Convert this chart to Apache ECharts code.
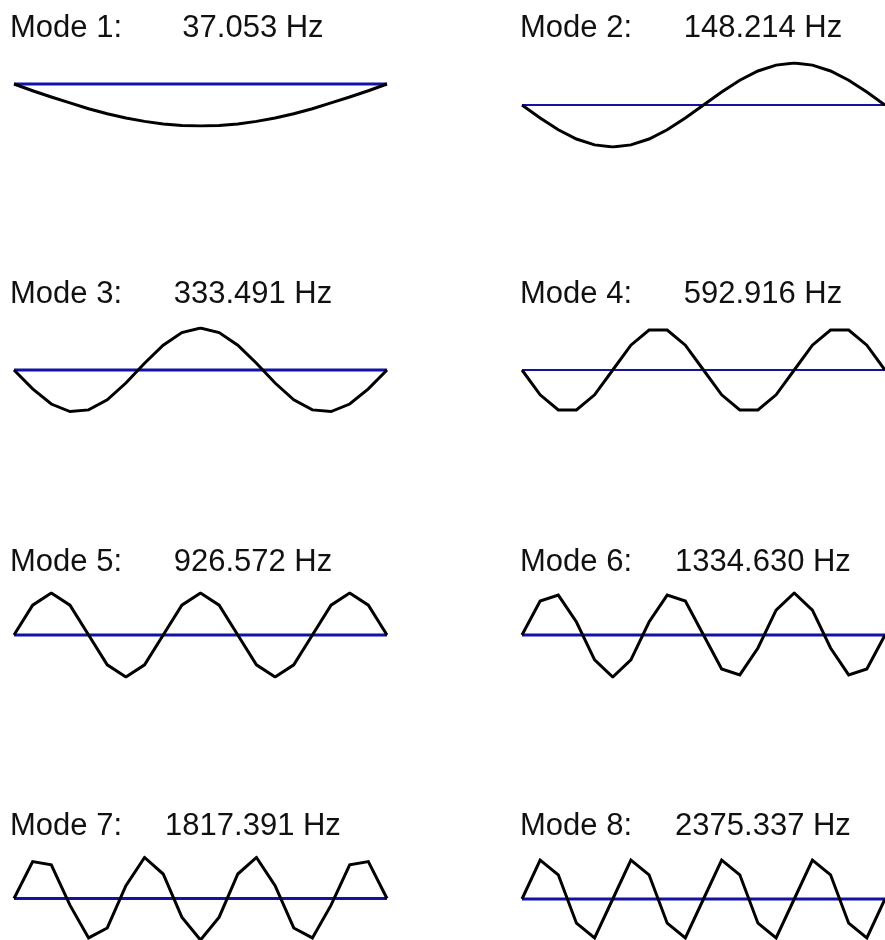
<!DOCTYPE html>
<html>
<head>
<meta charset="utf-8">
<script src="https://cdn.jsdelivr.net/npm/echarts@6.0.0/dist/echarts.min.js"></script>
<style>
  html, body { margin: 0; padding: 0; background: #fff; }
  #chart { width: 885px; height: 940px; }
</style>
</head>
<body>
<div id="chart"></div>
<script>
// node positions along the beam (20 elements, 21 nodes)
var nodes = [0,1,2,3,4,5,6,7,8,9,10,11,12,13,14,15,16,17,18,19,20];

// undeformed beam
var rest = [0,0,0,0,0,0,0,0,0,0,0,0,0,0,0,0,0,0,0,0,0];

// mode shapes (normalised deflection)
var mode1 = [0,-0.16,-0.31,-0.45,-0.59,-0.71,-0.81,-0.89,-0.95,-0.99,-1,-0.99,-0.95,-0.89,-0.81,-0.71,-0.59,-0.45,-0.31,-0.16,0];
var mode2 = [0,-0.31,-0.59,-0.81,-0.95,-1,-0.95,-0.81,-0.59,-0.31,0,0.31,0.59,0.81,0.95,1,0.95,0.81,0.59,0.31,0];
var mode3 = [0,-0.45,-0.81,-0.99,-0.95,-0.71,-0.31,0.16,0.59,0.89,1,0.89,0.59,0.16,-0.31,-0.71,-0.95,-0.99,-0.81,-0.45,0];
var mode4 = [0,-0.59,-0.95,-0.95,-0.59,0,0.59,0.95,0.95,0.59,0,-0.59,-0.95,-0.95,-0.59,0,0.59,0.95,0.95,0.59,0];
var mode5 = [0,0.71,1,0.71,0,-0.71,-1,-0.71,0,0.71,1,0.71,0,-0.71,-1,-0.71,0,0.71,1,0.71,0];
var mode6 = [0,0.81,0.95,0.31,-0.59,-1,-0.59,0.31,0.95,0.81,0,-0.81,-0.95,-0.31,0.59,1,0.59,-0.31,-0.95,-0.81,0];
var mode7 = [0,0.89,0.81,-0.16,-0.95,-0.71,0.31,0.99,0.59,-0.45,-1,-0.45,0.59,0.99,0.31,-0.71,-0.95,-0.16,0.81,0.89,0];
var mode8 = [0,0.95,0.59,-0.59,-0.95,0,0.95,0.59,-0.59,-0.95,0,0.95,0.59,-0.59,-0.95,0,0.95,0.59,-0.59,-0.95,0];

var shapes = [mode1, mode2, mode3, mode4, mode5, mode6, mode7, mode8];

var labels = [
  'Mode 1:       37.053 Hz',
  'Mode 2:      148.214 Hz',
  'Mode 3:      333.491 Hz',
  'Mode 4:      592.916 Hz',
  'Mode 5:      926.572 Hz',
  'Mode 6:     1334.630 Hz',
  'Mode 7:     1817.391 Hz',
  'Mode 8:     2375.337 Hz'
];

function pairs(ys) {
  var out = [];
  for (var i = 0; i < nodes.length; i++) out.push([nodes[i], ys[i]]);
  return out;
}

var colLeft = [14, 522];
var rowMid = [84, 370, 635, 899];
var rowMid2 = [105, 370, 635, 900];
var titleTop = [13, 279, 547, 811];
var amp = 42;

var grid = [], xAxis = [], yAxis = [], series = [], title = [];
for (var k = 0; k < 8; k++) {
  var col = k % 2, row = Math.floor(k / 2);
  var mid = col === 0 ? rowMid[row] : rowMid2[row];
  grid.push({ left: colLeft[col], top: mid - amp, width: 373, height: amp * 2 });
  xAxis.push({ gridIndex: k, type: 'value', min: 0, max: 20, show: false });
  yAxis.push({ gridIndex: k, type: 'value', min: -1, max: 1, show: false });
  title.push({
    text: labels[k],
    left: col === 0 ? 10 : 520,
    top: titleTop[row],
    padding: 0,
    textStyle: {
      fontFamily: 'Liberation Sans',
      fontSize: 31,
      fontWeight: 'normal',
      color: '#111',
      lineHeight: 31
    }
  });
  series.push({
    type: 'line', xAxisIndex: k, yAxisIndex: k,
    data: pairs(rest), showSymbol: false, silent: true,
    lineStyle: { color: '#1212a4', width: col === 0 || row > 1 ? 3 : 2 }
  });
  series.push({
    type: 'line', xAxisIndex: k, yAxisIndex: k,
    data: pairs(shapes[k]), showSymbol: false, silent: true,
    lineStyle: { color: '#000', width: 3, join: 'miter' }
  });
}

var myChart = echarts.init(document.getElementById('chart'));
myChart.setOption({
  animation: false,
  backgroundColor: '#fff',
  title: title,
  grid: grid,
  xAxis: xAxis,
  yAxis: yAxis,
  series: series
});
</script>
</body>
</html>
